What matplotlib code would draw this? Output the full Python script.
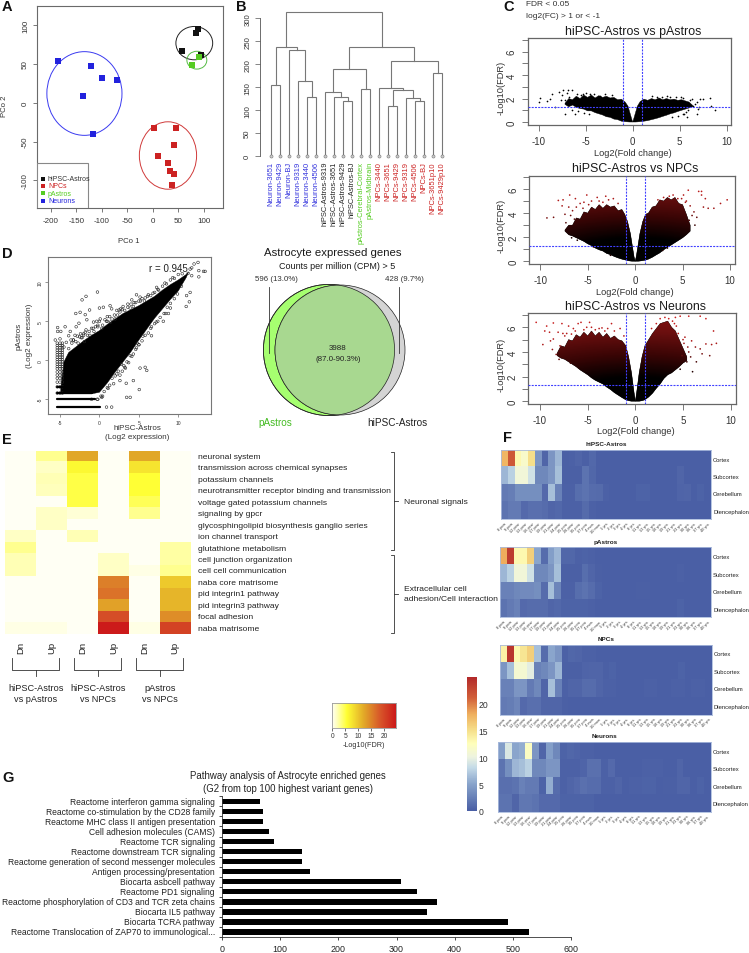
import numpy as np
import matplotlib
matplotlib.use("Agg")
import matplotlib.pyplot as plt
from matplotlib.patches import Ellipse, Circle, Polygon, Rectangle
from matplotlib.colors import LinearSegmentedColormap

plt.rcParams['font.family'] = ['Liberation Sans', 'DejaVu Sans']
plt.rcParams['axes.unicode_minus'] = False
W, H = 749, 954
fig = plt.figure(figsize=(W/100, H/100), dpi=100)

# ---------- DATA ----------
# Panel A
pco_black = ([88, 85, 57, 94], [95, 90, 67, 62])
pco_green = ([90, 76], [59, 49])
pco_blue = ([-185, -122, -100, -70, -136, -118], [54, 47, 32, 29, 9, -40])
pco_red = ([2, 45, 42, 10, 29, 33, 41, 38], [-33, -33, -54, -68, -78, -88, -92, -106])
pco_ell = [(-134, 12, 147, 108, '#3a3af0'), (29.5, -68, 112, 87, '#d03a3a'),
           (81, 77, 72, 43, '#222222'), (86, 55, 39, 23, '#55bb44')]
pco_legend = [('hiPSC-Astros', '#111111'), ('NPCs', '#cc2222'), ('pAstros', '#55cc22'), ('Neurons', '#2222dd')]

# Panel B
leaf_labels = ['Neuron-3651', 'Neuron-9429', 'Neuron-BJ', 'Neuron-9319', 'Neuron-3440', 'Neuron-4506',
               'hiPSC-Astros-9319', 'hiPSC-Astros-3651', 'hiPSC-Astros-9429', 'hiPSC-Astros-BJ',
               'pAstros-Cerebral-Cortex', 'pAstros-Midbrain',
               'NPCs-3440', 'NPCs-3651', 'NPCs-9429', 'NPCs-9319', 'NPCs-4506', 'NPCs-BJ',
               'NPCs-3651p10', 'NPCs-9429p10']
leaf_colors = ['#3333dd']*6 + ['#222222']*4 + ['#55cc22']*2 + ['#cc2222']*8
# merges: (left node, right node, height); ints < 20 are leaves, 'mK' are earlier merges
merges = [(0, 1, 155), (4, 5, 128), (3, 'm1', 163), (2, 'm2', 232), ('m0', 'm3', 237),
          (8, 9, 120), (7, 'm5', 129), (6, 'm6', 139), (10, 11, 145), ('m7', 'm8', 190),
          (13, 14, 109), (16, 17, 119), (15, 'm11', 127), ('m10', 'm12', 143), (12, 'm13', 149),
          (18, 19, 180), ('m14', 'm15', 207), ('m9', 'm16', 238), ('m4', 'm17', 313)]

# Panel C volcano envelopes: x, upper, lower
v1_left = ([-7.2, -6.8, -6.4, -6, -5.6, -5.2, -4.8, -4.4, -4, -3.6, -3.2, -2.8, -2.4, -2, -1.6, -1.2, -.8, -.5, -.3, -.12, 0],
           [1.6, 2.0, 1.9, 2.2, 2.0, 2.3, 2.1, 2.3, 2.05, 2.25, 2.1, 2.2, 2.05, 2.1, 1.9, 1.95, 1.7, 1.35, .8, .3, 0],
           [1.5, 1.3, 1.45, 1.25, 1.15, 1.1, .95, .95, .8, .7, .6, .45, .4, .25, .2, .07, .03, .01, 0, 0, 0])
v1_right = ([0, .12, .3, .5, .8, 1.2, 1.6, 2, 2.4, 2.8, 3.2, 3.6, 4, 4.4, 4.8, 5.2, 5.6, 6, 6.4],
            [0, .3, .8, 1.35, 1.75, 1.95, 1.85, 2.0, 1.9, 2.05, 1.9, 2.0, 1.9, 1.95, 1.85, 1.9, 1.8, 1.7, 1.4],
            [0, 0, 0, .01, .03, .07, .12, .2, .28, .37, .48, .58, .7, .78, .9, 1.0, 1.1, 1.2, 1.3])
v1_pts = ([-9.9, -10, -9.15, -8.6, -8.8, -8.3, -7.4, -6.85, -6.5, -7.2, -6.1, 8.2, 8.75, 8.3, 7.2, 7.5, 6.8, 6.45, 6.8, 5.75, 6.3, -5.25, -3.5, 4, 2.55, -7.5, -7, -6.8, -7.2, -6.6, 6.9, 6.6, 7.1, 5.5, 5.9, -7.6, -7.8, -5.9, -5.5, -5, -4.5, -4.1, -2.9, -2.2, 2.1, 3.1, 3.7, 4.6, 5.1, 5.4, 6.1, -6.5, -5.8, -5.2, -4.6, 4.2, 4.8, 5.3, 5.7],
          [2.05, 1.7, 1.8, 2.4, 2, 1.25, 2.7, 2.7, 2.7, 0.7, 0.7, 2.05, 1, 1.35, 2, 2, 1.7, 1.4, 0.7, 0.4, 2, 2.4, 2.25, 2.15, 2.15, 2.3, 2.5, 2.1, 1.9, 1.5, 1.1, 1.5, 1.3, 0.7, 1.0, 1.9, 2.6, 2.4, 2.3, 2.45, 2.4, 2.35, 2.4, 2.3, 2.2, 2.15, 2.2, 2.1, 2.15, 2.05, 1.9, 1.05, 0.95, 0.8, 0.7, 0.45, 0.55, 0.65, 0.85])
v2_left = ([-7.4, -7, -6.6, -6.2, -5.8, -5.4, -5, -4.6, -4.2, -3.8, -3.4, -3, -2.6, -2.2, -1.8, -1.4, -1.1, -.8, -.5, -.3, -.12, 0],
           [2.6, 3.0, 3.0, 3.6, 3.5, 4.1, 4.0, 4.5, 4.3, 4.7, 4.4, 4.7, 4.5, 4.6, 4.2, 4.3, 3.9, 3.3, 2.3, 1.3, .4, 0],
           [2.5, 2.2, 2.1, 1.95, 1.8, 1.65, 1.45, 1.3, 1.1, .95, .85, .65, .55, .4, .28, .18, .12, .06, .02, 0, 0, 0])
v2_right = ([0, .12, .3, .5, .8, 1.1, 1.4, 1.8, 2.2, 2.6, 3, 3.4, 3.8, 4.2, 4.6, 5, 5.4, 5.8],
            [0, .4, 1.3, 2.3, 3.3, 3.9, 4.0, 4.5, 4.6, 5.1, 5.0, 5.3, 5.1, 5.3, 4.8, 4.7, 3.9, 3.0],
            [0, 0, 0, .02, .06, .1, .18, .33, .52, .7, .95, 1.15, 1.35, 1.55, 1.75, 1.95, 2.2, 2.5])
v2_pts = ([-8.1, -7.6, -6.9, -7.7, -7, -9.3, -8.6, -6.3, -5.1, -4, -2.3, 5.6, 6.7, 7, 9.7, 9, 8.3, 7.7, 7.2, 7.4, 7, 4, 5.1, 5.8, 6.2, 6.5, -6.6, -5.8, -5.4, -4.6, -3.4, -2.8, 3, 3.6, 4.5, 5.4, 6.3, 2.4, -6.4, -7.3, -7.4, -6.8, -6.2, -5.5, -4.9, -3.8, -3.1, -1.8, 4.9, 5.3, 5.7, 6, 2.9, 3.4, -6.7, -6.1, -4.4, -2.6],
          [5.05, 5.1, 5.5, 4.6, 4.5, 3.6, 3.65, 5.2, 5.5, 5.3, 5.2, 5.9, 5.8, 5.8, 5.1, 4.8, 4.4, 4.4, 4.5, 5.2, 5.5, 5.5, 5.5, 4.6, 4.1, 3.65, 4.2, 4.8, 4.9, 5.0, 4.9, 5.1, 5.3, 5.4, 5.2, 5.0, 3.0, 5.1, 3.5, 3.2, 3.9, 3.8, 4.5, 4.4, 4.7, 5.0, 5.4, 4.8, 5.2, 4.9, 3.4, 3.8, 0.9, 1.1, 1.95, 1.75, 1.2, 0.5])
v3_left = ([-8.2, -7.8, -7.4, -7, -6.6, -6.2, -5.8, -5.4, -5, -4.6, -4.2, -3.8, -3.4, -3, -2.6, -2.2, -1.8, -1.4, -1, -.7, -.4, -.15, 0],
           [3.9, 4.5, 4.4, 5.0, 4.9, 5.4, 5.2, 5.6, 5.3, 5.7, 5.3, 5.6, 5.2, 5.5, 5.1, 5.3, 5.0, 4.9, 4.5, 3.6, 2.3, .8, 0],
           [3.7, 3.5, 3.4, 3.2, 3.0, 2.8, 2.55, 2.35, 2.15, 1.9, 1.7, 1.55, 1.4, 1.15, .95, .7, .5, .3, .12, .05, 0, 0, 0])
v3_right = ([0, .15, .4, .7, 1, 1.4, 1.8, 2.2, 2.6, 3, 3.4, 3.8, 4.2, 4.6, 5, 5.4],
            [0, .8, 2.3, 3.6, 4.5, 5.0, 5.5, 5.9, 6.3, 6.4, 6.5, 6.0, 5.7, 5.0, 4.3, 3.6],
            [0, 0, 0, .05, .12, .35, .65, 1.05, 1.4, 1.85, 2.15, 2.3, 2.55, 2.8, 3.1, 3.3])
v3_pts = ([-10.4, -9.3, -9.5, -8.6, -7.7, -7, -9.7, -8.3, -6, -5.7, -4.8, -4.6, -3.5, -2.5, -2.9, -1.6, -8.1, -8.6, -7.4, -6.7, 4.7, 5.6, 6.8, 7.4, 8.2, 8.5, 8, 7.4, 6.8, 6.3, 7, 7.8, 6.4, 6, 5.6, 5.9, 5.2, 4.2, 3.5, 2.6, 5.4, 4.9, 4.7, -7.9, -6.3, -5.4, -4.2, -3.2, 5, 4.5, 5.5, 4.3, -9.0, -8.9, -7.6, -7.2, -6.5, -5.1, -3.8, -2.2, -1.2, 3.1, 3.9, 4.1, 5.1, 5.8, 2.2, 1.7, -8.7, -8.0, -6.8, -5.9],
          [6.4, 6.1, 5.7, 6.35, 6.3, 6.1, 4.6, 3.8, 6.3, 6.4, 6.4, 6, 5.95, 6.3, 5.9, 5.9, 5.6, 5.05, 5.3, 5.45, 6.9, 6.9, 6.9, 6.7, 5.7, 4.7, 4.6, 4.65, 4.25, 4.4, 3.85, 3.7, 3.2, 2.4, 4, 4.9, 5.2, 6.8, 6.7, 6.7, 3.2, 3.7, 2.6, 4.5, 5.7, 5.8, 5.8, 5.7, 5.0, 5.5, 4.4, 6.1, 5.6, 4.9, 5.5, 5.5, 5.9, 6.0, 5.9, 5.7, 5.3, 6.8, 6.5, 6.3, 4.7, 3.6, 6.3, 5.9, 4.2, 3.4, 3.1, 2.7])

# Panel D
d_upper = ([-4.9, -4.5, -3.9, -3, -2, -1, 0, 1, 2, 3, 4, 5, 6, 7, 8, 9, 10, 11, 11.3],
           [-3.5, -0.2, 1.0, 1.7, 2.5, 3.2, 3.8, 4.6, 5.3, 6.0, 6.5, 7.0, 7.6, 8.2, 9.0, 9.7, 10.3, 11, 11.3])
d_lower = ([11, 10, 9, 8, 7, 6, 5, 4, 3, 2, 1, 0, -1, -3, -4.9],
           [10.6, 8.9, 7.8, 6.6, 5.4, 4.0, 2.6, 1.1, -0.2, -1.5, -2.9, -4.1, -4.3, -4.3, -4.3])
d_pts = ([-.25, -1.7, -2.2, 0, .5, 1.35, 1.55, -3, -2.45, -1.8, -1.25, -1.6, -.75, -.35, .1, .9, -5.3, -5.3, -4.9, -4.35, -3.7, -2.6, -2.95, -5.6, -5, -3.9, -3.3, -2, 2.2, 2.5, 4.7, 5.15, 4.1, 6.2, 7.25, 11.5, 11.05, 11.4, 11, 8.75, 8.1, 6.6, 6, 5.15, 5.8, 5.05, 3.9, 3.45, 3.4, 4.3, 2.2, 2.6, 1.55, .9, .3, 12.5, 12, 11.5, 11.7, 12.6, 13.2, 13.4, 12.6, 11.7, 11.25,
          -3.6, -3.1, -2.7, -2.2, -1.7, -1.2, -.8, -.2, .3, 1, 1.4, 2, 2.7, 3, 3.6, 3.9, 4.4, 5.2, 5.8, 6.8, 7.4, 8.3, 9.3, 6.5, 7.2, 8.4, 9, 4.8, 5.5, 3.2, 3.7, 4.1, 2.6, 1.8, 1.1, 2.9, 3.3, 4.6, 5, 0.4, -.3, -1, -1.9, -2.4,
          -4.5, -4.2, -3.9, -3.5, -3.3, -3, -2.8, -2.5, -2.3, -2, -1.8, -1.5, -1.3, -1, -.7, -.5, -.2, 0, .4, .7, 1, 1.3, 1.6, 1.9, 2.3, 2.6, 2.9, 3.2, 3.6, 4, 4.3, 4.6, 5, 5.4, 5.7, 6.1, 6.5, 7, 7.5, 8, 8.5, 9, 9.5, 10, 10.5,
          10.4, 9.9, 9.5, 9, 8.6, 8.2, 7.7, 7.4, 7, 6.6, 6.2, 5.8, 5.4, 5, 4.7, 4.3, 3.9, 3.5, 3.1, 2.8, 2.4, 2, 1.6, 1.3, 1, .6, .2, -.2],
         [8.75, 8.2, 7.75, 6.7, 6.8, 7, 6.6, 6, 6.15, 5.85, 6.45, 5.2, 4.9, 5, 5.3, 5, 4.2, 3.7, 3.7, 4.3, 3.7, 4.75, 4.3, 2.6, 2.75, 3.15, 2.6, 3.4, 6.4, 6.45, 8.4, 8.1, 7.75, 8.4, 9.35, 8.7, 8.3, 7.5, 6.9, 6, 5, 3.15, -1.3, -1, -.9, -3.75, -4.75, -4.75, -2.95, -2.6, -1.75, -2.6, -6, -6, -4.75, 12.55, 12.35, 11.7, 11.85, 11.5, 11.4, 11.4, 10.7, 10.85, 11.15,
          2.6, 3.2, 2.2, 2.9, 3.9, 3.2, 4.1, 4.3, 4.1, 5.6, 4.9, 5.3, 6.6, 6.9, 7.2, 6.7, 7.4, 7.6, 8.0, 8.6, 9.1, 9.9, 10.6, 4.1, 4.9, 6.0, 6.7, 2.2, 3.1, -0.9, -0.3, 0.5, -1.9, -3, -3.6, -1.4, -1.0, 1.4, 2.0, -4.6, -5, -5, 2.4, 3.4,
          1.7, 2.3, 1.5, 2.2, 2.6, 2.4, 3.1, 3.0, 2.9, 3.2, 3.6, 3.2, 3.7, 4.1, 3.7, 4.3, 4.5, 5.0, 4.5, 5.2, 5.0, 5.6, 5.3, 5.8, 5.8, 6.2, 6.5, 6.4, 6.8, 7.2, 6.9, 7.4, 7.6, 7.9, 7.6, 8.2, 8.3, 8.7, 9.0, 9.5, 9.8, 10.3, 10.5, 11.0, 11.1,
          9.5, 8.5, 7.9, 7.3, 6.8, 6.0, 5.5, 5.0, 4.7, 4.3, 3.5, 3.2, 2.5, 2.0, 1.6, 0.8, 0.6, -.2, -.7, -.5, -1.4, -2.0, -2.3, -3.2, -3.5, -4.0, -4.6, -5.0])
d_ladder_x = [-5.35, -5.0, -4.7]
d_ladder_y = [-4.2, -3.4, -2.8, -2.3, -1.9, -1.5, -1.1, -.8, -.5, -.2, .1, .4, .7, 1.0, 1.3, 1.6, 1.9, 2.2]
d_rows = [(-6, -5.4, 0.1), (-4.95, -5.4, -0.6), (-4.15, -5.4, -1.0), (-3.4, -5.4, -3.0)]

# Panel E
e_rows = ['neuronal system', 'transmission across chemical synapses', 'potassium channels',
          'neurotransmitter receptor binding and transmission', 'voltage gated potassium channels',
          'signaling by gpcr', 'glycosphingolipid biosynthesis ganglio series', 'ion channel transport',
          'glutathione metabolism', 'cell junction organization', 'cell cell communication',
          'naba core matrisome', 'pid integrin1 pathway', 'pid integrin3 pathway', 'focal adhesion', 'naba matrisome']
e_cols = ['Dn', 'Up', 'Dn', 'Up', 'Dn', 'Up']
e_vals = [[0, 3, 12, 0, 12, 0], [0, 1.5, 6, 0, 7.5, 0], [0, 2, 5, 0, 5.5, 0], [0, 1.8, 5, 0, 5.5, 0],
          [0, 0, 5, 0, 4.5, 0], [0, 1.5, 1, 0, 3, 0], [0, 1.5, 0, 0, 0, 0], [1.5, 0, 2, 0, 0, 0],
          [3, 0, 0, 0, 0, 2.5], [2, 0, 0, 1.5, 0, 2.5], [2, 0, 0, 1.5, 0.5, 3], [0, 0, 0, 15, 0, 9.5],
          [0, 0, 0, 16, 0, 11], [0, 0, 0, 12.5, 0, 11], [0, 0, 0, 19, 0, 14], [0.5, 0.5, 0, 24, 0.5, 20]]

# Panel F
stages = ['8 pcw', '9 pcw', '12 pcw', '13 pcw', '16 pcw', '17 pcw', '19 pcw', '21 pcw', '24 pcw', '25 pcw',
          '26 pcw', '35 pcw', '37 pcw', '4 mos', '10 mos', '1 yrs', '2 yrs', '3 yrs', '4 yrs', '8 yrs',
          '11 yrs', '13 yrs', '15 yrs', '18 yrs', '19 yrs', '21 yrs', '23 yrs', '30 yrs', '36 yrs', '37 yrs', '40 yrs']
regions = ['Cortex', 'Subcortex', 'Cerebellum', 'Diencephalon']
f_astros = [[17.5, 21.5, 13, 11.5, 15, 4, .5, 4, 6, .1,  .2, .5, .1, .7, 0, 0, 0, 0, 0, 0,  0, 0, 0, 0, 0, 0, 0, 0, 0, 0, 0],
            [6, 7.5, 10.5, 10.5, 8.5, 3, 3, 4, 6.5, .1,  .1, .1, 1.5, .6, 0, 0, 0, 0, 0, 0,  0, 0, 0, 0, 0, 0, .5, 0, 0, 0, 0],
            [2, 2.3, 3.5, 3.5, 3.5, 3.5, .8, 6.5, 2.5, .2,  .2, 1.1, 1.5, 1, .9, .2, 0, 0, 0, 0,  .3, .3, 0, 0, 0, 0, .4, .5, 0, .3, 0],
            [1.5, 2, 2, .8, 1.2, 1.2, 1, .5, .7, .2,  .2, .2, .9, .2, 0, 0, 0, 0, 0, 0,  0, 0, 0, 0, 0, 0, 0, 0, 0, 0, 0]]
f_pastros = [[18, 23.5, 13, 13, 16, 5, 1, 4.5, 6, .6,  .6, .2, .3, .2, 0, 0, 0, 0, 0, 0,  0, 0, 0, 0, 0, 0, 0, 0, 0, 0, 0],
             [6, 7.5, 10.5, 10.5, 8.5, 3, 3, 4, 6.5, .1,  .1, .1, 1.1, .5, .1, 0, 0, 0, 0, 0,  0, 0, 0, 0, 0, 0, .2, 0, 0, 0, 0],
             [2.5, 2.5, 3, 3.2, 3.2, 3.5, 1, 6.5, 2.8, .2,  .2, 1.1, 1.5, 1, .3, 0, 0, 0, 0, 0,  .1, .1, 0, 0, 0, 0, 0, 0, 0, 0, 0],
             [1.5, 2, 2.5, .8, 1, 1, 1, .5, .7, .3,  .3, .3, .3, .2, 0, 0, 0, 0, 0, 0,  0, 0, 0, 0, 0, 0, .3, 0, 0, 0, 0]]
f_npcs = [[13.5, 24, 13, 14.5, 16, 6.5, 1, 5, 4, .2,  .6, .5, .2, .2, 0, 0, 0, 0, 0, 0,  0, 0, 0, 0, 0, 0, 0, 0, 0, 0, 0],
          [4, 6.5, 11, 11, 9.5, 2.5, 3, 4, 6, .1,  .1, .1, .4, .5, .5, .1, .3, 0, 0, 0,  0, 0, 0, 0, 0, 0, .3, 0, 0, 0, 0],
          [2.5, 2.5, 4, 4, 2, 3, .5, 6.5, 2.5, .2,  .5, .5, 1, 1, .5, .2, .2, 0, 0, 0,  0, .2, .2, 0, 0, .2, .2, 0, .2, .2, 0],
          [2, 2.2, 2.8, .8, 1.2, 1.2, .5, .5, .5, .1,  0, 0, 0, 0, 0, 0, 0, 0, 0, 0,  0, 0, 0, 0, 0, 0, 0, 0, 0, 0, 0]]
f_neurons = [[4.5, 9, 5, 5.5, 12, 4, .5, 4.5, 3, .3,  .6, .4, .2, .2, 0, 0, 0, 0, 0, 0,  0, 0, 0, 0, 0, 0, 0, 0, 0, 0, 0],
             [1.5, 3.5, 6, 6.5, 7.5, 3, 3, 4, 4, .2,  .2, .2, .4, 1.3, 1.3, .2, .8, 0, 0, 0,  0, .2, .2, .2, 0, 0, .5, 0, 0, 0, 0],
             [1.2, 1.2, 1.5, 2.5, 2, 2, .3, 5.5, 1, .2,  .5, .8, 1.3, 1, 1, .2, .2, .5, 0, .2,  .2, .3, .3, 0, .1, .1, .5, .5, 0, .3, 0],
             [1.5, 1.5, .5, 1.8, 1.8, 1.5, .8, .8, .8, .3,  .3, .3, .3, .3, 0, 0, 0, 0, 0, 0,  0, 0, 0, 0, 0, 0, 0, 0, 0, 0, 0]]

# Panel G
g_labels = ['Reactome interferon gamma signaling', 'Reactome co-stimulation by the CD28 family',
            'Reactome MHC class II antigen presentation', 'Cell adhesion molecules (CAMS)', 'Reactome TCR signaling',
            'Reactome downstream TCR signaling', 'Reactome generation of second messenger molecules',
            'Antigen processing/presentation', 'Biocarta asbcell pathway', 'Reactome PD1 signaling',
            'Reactome phosphorylation of CD3 and TCR zeta chains', 'Biocarta IL5 pathway', 'Biocarta TCRA pathway',
            'Reactome Translocation of ZAP70 to immunological...']
g_vals = [65, 71, 71, 80, 90, 137, 137, 152, 308, 336, 370, 352, 492, 527]

# ---------- helpers ----------
def ax_px(x0, y0, x1, y1, **kw):
    a = fig.add_axes([x0/W, 1-y1/H, (x1-x0)/W, (y1-y0)/H], **kw)
    a.patch.set_alpha(0)
    return a

def lim_from(px0, px1, t0, t1, v0, v1):
    """axis limits from two calibration ticks (tick value v at pixel t)"""
    s = (v1-v0)/(t1-t0)
    return v0+(px0-t0)*s, v0+(px1-t0)*s

def rstyle(ax, col='#6a6a6a', lw=0.8):
    for s in ax.spines.values():
        s.set_color(col); s.set_linewidth(lw)
    ax.tick_params(color='#444444', width=0.5, length=3, labelcolor='#333333', pad=3)

ov = fig.add_axes([0, 0, 1, 1], zorder=10)
ov.set_xlim(0, W); ov.set_ylim(H, 0); ov.axis('off'); ov.patch.set_alpha(0)

def T(x, y, s, size=6, ha='left', va='center', **kw):
    ov.text(x, y, s, fontsize=size, ha=ha, va=va, **kw)

for l, x, y in [('A', 2, 7), ('B', 236, 7), ('C', 503, 7), ('D', 2, 254), ('E', 2, 440), ('F', 503, 438), ('G', 2, 778)]:
    T(x, y, l, 10.5, weight='bold', color='#111111')

# ---------- Panel A ----------
ax = ax_px(37.3, 6.7, 222.7, 209.3)
ax.set_xlim(*lim_from(37.3, 222.7, 50.7, 204, -200, 100))
ax.set_ylim(*lim_from(209.3, 6.7, 181.3, 26.3, -100, 100))
for (cx, cy, w, h, c) in pco_ell:
    ax.add_patch(Ellipse((cx, cy), w, h, fill=False, ec=c, lw=0.7))
for pts, c in [(pco_black, '#111111'), (pco_red, '#cc2222'), (pco_green, '#55cc22'), (pco_blue, '#2222dd')]:
    ax.scatter(pts[0], pts[1], marker='s', s=15, c=c, lw=0, zorder=3)
ax.set_xticks(range(-200, 101, 50)); ax.set_yticks(range(-100, 101, 50))
ax.tick_params(axis='x', labelsize=5.8); ax.tick_params(axis='y', labelsize=5.8, labelrotation=90)
for t in ax.get_yticklabels(): t.set_va('center')
rstyle(ax)
ax.add_patch(Rectangle((0, 0), 0.272, 0.225, transform=ax.transAxes, fill=True, fc='white', ec='#888888', lw=0.8, zorder=4))
for i, (s, c) in enumerate(pco_legend):
    y = 179.5+7.4*i
    ov.scatter([42.5], [y], marker='s', s=5, c=c, lw=0)
    T(48, y, s, 5, color=c if i else '#333333')
T(129, 241.5, 'PCo 1', 5.6, ha='center', color='#333333')
T(5, 106, 'PCo 2', 5.6, ha='center', rotation=90, color='#333333')

# ---------- Panel B ----------
ax = ax_px(259.7, 8, 445, 157)
ax.set_xlim(*lim_from(259.7, 445, 271, 442, 0, 19))
ax.set_ylim(*lim_from(157, 8, 157, 19.3, 0, 300))
pos = {i: (i, 0) for i in range(20)}
for k, (a, b, hgt) in enumerate(merges):
    xa, ya = pos[a]; xb, yb = pos[b]
    ax.plot([xa, xa, xb, xb], [ya, hgt, hgt, yb], color='#777777', lw=0.8, solid_joinstyle='miter')
    pos[f'm{k}'] = ((xa+xb)/2, hgt)
ax.scatter(range(20), [0]*20, s=5, facecolor='#cccccc', edgecolor='#777777', lw=0.4, zorder=3, clip_on=False)
for s in ['top', 'right', 'bottom']:
    ax.spines[s].set_visible(False)
ax.spines['left'].set_bounds(0, 300); ax.spines['left'].set_color('#555555'); ax.spines['left'].set_linewidth(0.6)
ax.set_xticks([]); ax.set_yticks(range(0, 301, 50))
ax.tick_params(axis='y', labelsize=5.6, labelrotation=90, length=3.6, width=0.5, color='#555555', labelcolor='#333333', pad=2.5)
for t in ax.get_yticklabels(): t.set_va('center')
for i, (s, c) in enumerate(zip(leaf_labels, leaf_colors)):
    T(271+9*i, 162, s, 5.4, ha='center', va='top', rotation=90, color=c)

# ---------- Panel C ----------
grad_cm = LinearSegmentedColormap.from_list('g', ['#000000', '#000000', '#3a0505', '#6b0f0f', '#8a1414'])
dash = (0, (1.8, 1.1))
def volcano(box, xt, yt, title, ty, left, right, pts, colored, xlab_y):
    ax = ax_px(*box)
    xl = lim_from(box[0], box[2], xt[0], xt[1], -10, 10)
    yl = lim_from(box[3], box[1], yt[0], yt[1], 0, 6)
    for lobe in (left, right):
        poly = list(zip(lobe[0], lobe[1])) + list(zip(lobe[0][::-1], lobe[2][::-1]))
        pg = Polygon(poly, closed=True, fc='black', ec='black', lw=0.3)
        ax.add_patch(pg)
        if colored:
            gx = np.linspace(-11, 11, 110); gy = np.linspace(0, 7.2, 80)
            GX, GY = np.meshgrid(gx, gy)
            im = ax.imshow(np.hypot(GX*0.25, GY), extent=[-11, 11, 0, 7.2], origin='lower', aspect='auto', cmap=grad_cm,
                           vmin=0, vmax=7.5, zorder=2)
            im.set_clip_path(pg)
    ax.set_xlim(*xl); ax.set_ylim(*yl)
    if colored:
        px, py = np.array(pts[0]), np.array(pts[1])
        ax.scatter(px, py, s=1.5, c=np.hypot(px*0.25, py),
                   cmap=LinearSegmentedColormap.from_list('p', ['#220000', '#a81818', '#cc2020']),
                   vmin=3, vmax=7, lw=0, zorder=3)
    else:
        ax.scatter(pts[0], pts[1], s=1.5, c='black', lw=0, zorder=3)
    for v in (-1, 1):
        ax.axvline(v, color='#4040ff', lw=0.8, ls=dash, zorder=4)
    ax.axhline(1.3, color='#4040ff', lw=0.8, ls=dash, zorder=4)
    ax.set_xticks([-10, -5, 0, 5, 10]); ax.set_yticks([0, 2, 4, 6])
    ax.set_yticks([1, 3, 5, 7], minor=True)
    ax.tick_params(axis='x', labelsize=7)
    ax.tick_params(axis='y', labelsize=7, labelrotation=90)
    for t in ax.get_yticklabels(): t.set_va('center')
    rstyle(ax, '#666666', 0.9)
    ax.tick_params(length=4.3, pad=3.6)
    ax.tick_params(axis='y', which='minor', length=4.3, width=0.5, color='#444444')
    cx = (xt[0]+xt[1])/2
    T(cx, ty, title, 8.9, ha='center', color='#1a1a1a')
    T(cx, xlab_y, 'Log2(Fold change)', 6.7, ha='center', color='#333333')
    T(501, (yt[0]+yt[1])/2, '-Log10(FDR)', 6.7, ha='center', rotation=90, color='#333333')

volcano((527.7, 39.3, 731, 126), (538.7, 726.7), (123, 52.7), 'hiPSC-Astros vs pAstros', 32, v1_left, v1_right, v1_pts, False, 153)
volcano((529.3, 176.7, 735, 264.7), (540.3, 730), (262.3, 190), 'hiPSC-Astros vs NPCs', 169, v2_left, v2_right, v2_pts, True, 292.5)
volcano((528.3, 314, 736, 405), (540, 730.7), (402.3, 328.3), 'hiPSC-Astros vs Neurons', 307, v3_left, v3_right, v3_pts, True, 432)
T(526, 5, 'FDR < 0.05', 6, color='#333333')
T(526, 16, 'log2(FC) > 1 or < -1', 6, color='#333333')

# ---------- Panel D ----------
ax = ax_px(48.3, 257.7, 210.7, 415)
ax.set_xlim(*lim_from(48.3, 210.7, 60, 178.3, -5, 10))
ax.set_ylim(*lim_from(415, 257.7, 400.3, 283.3, -5, 10))
ax.add_patch(Polygon(list(zip(*d_upper)) + list(zip(*d_lower)), closed=True, fc='black', ec='black', lw=0.3))
for y_, x0_, x1_ in d_rows:
    ax.plot([x0_, x1_], [y_, y_], color='black', lw=1.6, solid_capstyle='round')
lx, ly = np.meshgrid(d_ladder_x, d_ladder_y)
mk = dict(marker='o', s=3.6, facecolor='none', edgecolor='#222222', lw=0.4)
ax.scatter(lx.ravel(), ly.ravel(), **mk)
ax.scatter(d_pts[0], d_pts[1], **mk)
ax.set_xticks([-5, 0, 5, 10]); ax.set_yticks([-5, 0, 5, 10])
ax.tick_params(axis='x', labelsize=3.6); ax.tick_params(axis='y', labelsize=3.6, labelrotation=90)
for t in ax.get_yticklabels(): t.set_va('center')
rstyle(ax, '#777777', 0.8)
ax.tick_params(length=2, width=0.4, pad=2)
T(168, 269, 'r = 0.945', 7, ha='center', color='#222222')
T(137, 429, 'hiPSC-Astros', 5.8, ha='center', color='#333333')
T(137, 437.7, '(Log2 expression)', 5.8, ha='center', color='#333333')
T(19.5, 336, 'pAstros', 5.8, ha='center', rotation=90, color='#333333')
T(29.5, 336, '(Log2 expression)', 5.8, ha='center', rotation=90, color='#333333')

# ---------- Venn ----------
gc = Circle((329, 351), 65.6, fc='#a6ff70', ec='#222222', lw=0.5)
yc = Circle((340, 351), 65, fc='#d4d4d4', ec='#222222', lw=0.5)
ov.add_patch(gc); ov.add_patch(yc)
ovl = Circle((340, 351), 65, fc='#a8d890', ec='#222222', lw=0.5)
ov.add_patch(ovl); ovl.set_clip_path(Circle((329, 351), 65.6, transform=ov.transData))
ov.add_patch(Circle((329, 351), 65.6, fill=False, ec='#222222', lw=0.5))
ov.plot([269.3, 269.3], [288, 353.7], color='#333333', lw=0.6)
ov.plot([399.3, 399.3], [288, 353.7], color='#333333', lw=0.6)
T(332.7, 253.3, 'Astrocyte expressed genes', 8.2, ha='center', color='#1a1a1a')
T(337, 267, 'Counts per million (CPM) > 5', 6.5, ha='center', color='#1a1a1a')
T(276.7, 279.7, '596 (13.0%)', 5.7, ha='center', color='#333333')
T(404.7, 279.7, '428 (9.7%)', 5.7, ha='center', color='#333333')
T(338, 349, '3988', 5.7, ha='center', color='#222222')
T(338, 359.5, '(87.0-90.3%)', 5.7, ha='center', color='#222222')
T(275, 423, 'pAstros', 7.2, ha='center', color='#44bb22')
T(397, 423, 'hiPSC-Astros', 7.2, ha='center', color='#222222')

# ---------- Panel E ----------
e_cm = LinearSegmentedColormap.from_list('e', [(0, '#fffff4'), (0.07, '#ffffc0'), (0.23, '#ffff33'), (0.5, '#e2a828'), (0.75, '#d8582a'), (1, '#cc1a1a')])
ax = ax_px(5, 451.7, 190.7, 635)
ax.imshow(np.array(e_vals), cmap=e_cm, vmin=0, vmax=24, aspect='auto', interpolation='nearest')
ax.axis('off')
for i, s in enumerate(e_rows):
    T(197.7, 451.7+(i+0.5)*183.3/16, s, 6.1, color='#222222')
col_px = [5+(i+0.5)*185.7/6 for i in range(6)]
for x, s in zip(col_px, e_cols):
    T(x, 654, s, 6.8, ha='center', va='bottom', rotation=90, color='#222222')
for x0, x1, lab in [(col_px[0]-8, col_px[1]+8, ['hiPSC-Astros', 'vs pAstros']),
                    (col_px[2]-8, col_px[3]+8, ['hiPSC-Astros', 'vs NPCs']),
                    (col_px[4]-8, col_px[5]+8, ['pAstros', 'vs NPCs'])]:
    ov.plot([x0, x0, x1, x1], [659, 671, 671, 659], color='#333333', lw=0.6)
    ov.plot([(x0+x1)/2]*2, [671, 677], color='#333333', lw=0.6)
    for j, s in enumerate(lab):
        T((x0+x1)/2, 689+11*j, s, 6.6, ha='center', color='#222222')
for y0, y1 in [(453.3, 550.7), (556.3, 634.3)]:
    ov.plot([390.5, 394.3, 394.3, 390.5], [y0, y0, y1, y1], color='#333333', lw=0.6)
    ov.plot([394.3, 397.5], [(y0+y1)/2]*2, color='#333333', lw=0.6)
T(404, 502.7, 'Neuronal signals', 6.1, color='#222222')
T(404, 589.5, 'Extracellular cell', 6.1, color='#222222')
T(404, 600, 'adhesion/Cell interaction', 6.1, color='#222222')
cb = ax_px(332.3, 704, 396, 729)
cb.imshow(np.linspace(0, 24, 200)[None, :], cmap=e_cm, vmin=0, vmax=24, aspect='auto', extent=[0, 24.5, 0, 1])
cb.set_yticks([]); cb.set_xticks([0, 5, 10, 15, 20])
cb.tick_params(axis='x', labelsize=4.8, length=2, width=0.4, pad=1, labelcolor='#333333')
for s in cb.spines.values(): s.set_color('#999999'); s.set_linewidth(0.6)
T(364, 746, '-Log10(FDR)', 5.2, ha='center', color='#333333')

# ---------- Panel F ----------
f_cm = LinearSegmentedColormap.from_list('f', [(0, '#4a5fa5'), (0.2, '#8aa5cc'), (0.32, '#c5dbe8'), (0.4, '#eef4e0'), (0.5, '#ffffbb'),
                                               (0.6, '#f6df8a'), (0.72, '#efaf5e'), (0.84, '#d2603a'), (1, '#b2282a')])
for (box, mat, name, ty) in [((501, 451, 711, 520.3), f_astros, 'hiPSC-Astros', 444.7),
                             ((500, 548.3, 711, 618.3), f_pastros, 'pAstros', 542.7),
                             ((500.3, 645.7, 711.7, 715.7), f_npcs, 'NPCs', 639.3),
                             ((498, 743.3, 710.7, 813), f_neurons, 'Neurons', 737)]:
    ax = ax_px(*box)
    ax.imshow(np.array(mat), cmap=f_cm, vmin=0, vmax=25, aspect='auto', interpolation='nearest')
    ax.set_xticks(range(31)); ax.set_xticklabels(stages, rotation=45, ha='right', rotation_mode='anchor', fontsize=2.8, color='#333333')
    ax.set_yticks(range(4)); ax.set_yticklabels(regions, fontsize=4.2, color='#222222')
    ax.yaxis.tick_right()
    ax.tick_params(length=0, pad=1.5)
    for s in ax.spines.values(): s.set_color('#aabbdd'); s.set_linewidth(0.6)
    T((box[0]+box[2])/2, ty, name, 4.6, ha='center', weight='bold', color='#222222')
cb = ax_px(467.3, 677.7, 476.3, 812)
cb.imshow(np.linspace(25, 0, 200)[:, None], cmap=f_cm, vmin=0, vmax=25, aspect='auto', extent=[0, 1, 0, 24.9])
cb.set_xticks([]); cb.set_yticks([0, 5, 10, 15, 20])
cb.yaxis.tick_right()
cb.tick_params(labelsize=6.2, length=0, pad=1.5, labelcolor='#333333')
for s in cb.spines.values(): s.set_visible(False)

# ---------- Panel G ----------
ax = ax_px(222, 797.3, 571, 938)
ax.set_xlim(0, 600)
ax.set_ylim(*lim_from(938, 797.3, 933, 802.3, 13, 0))
ax.barh(range(14), g_vals, height=0.54, color='black')
ax.set_xticks(range(0, 601, 100))
ax.set_yticks(np.arange(-0.5, 14))
ax.set_yticklabels([])
for s in ['top', 'right']: ax.spines[s].set_visible(False)
for s in ['left', 'bottom']: ax.spines[s].set_color('#333333'); ax.spines[s].set_linewidth(0.6)
ax.tick_params(axis='x', labelsize=6.4, length=2.5, width=0.5, pad=2.5, labelcolor='#222222')
ax.tick_params(axis='y', length=2, width=0.5)
for i, s in enumerate(g_labels):
    T(215, 802.3+i*10.05, s, 6.15, ha='right', color='#222222')
T(288, 776, 'Pathway analysis of Astrocyte enriched genes', 6.9, ha='center', color='#222222')
T(288, 789, '(G2 from top 100 highest variant genes)', 6.9, ha='center', color='#222222')

fig.savefig('out.png', dpi=100)
